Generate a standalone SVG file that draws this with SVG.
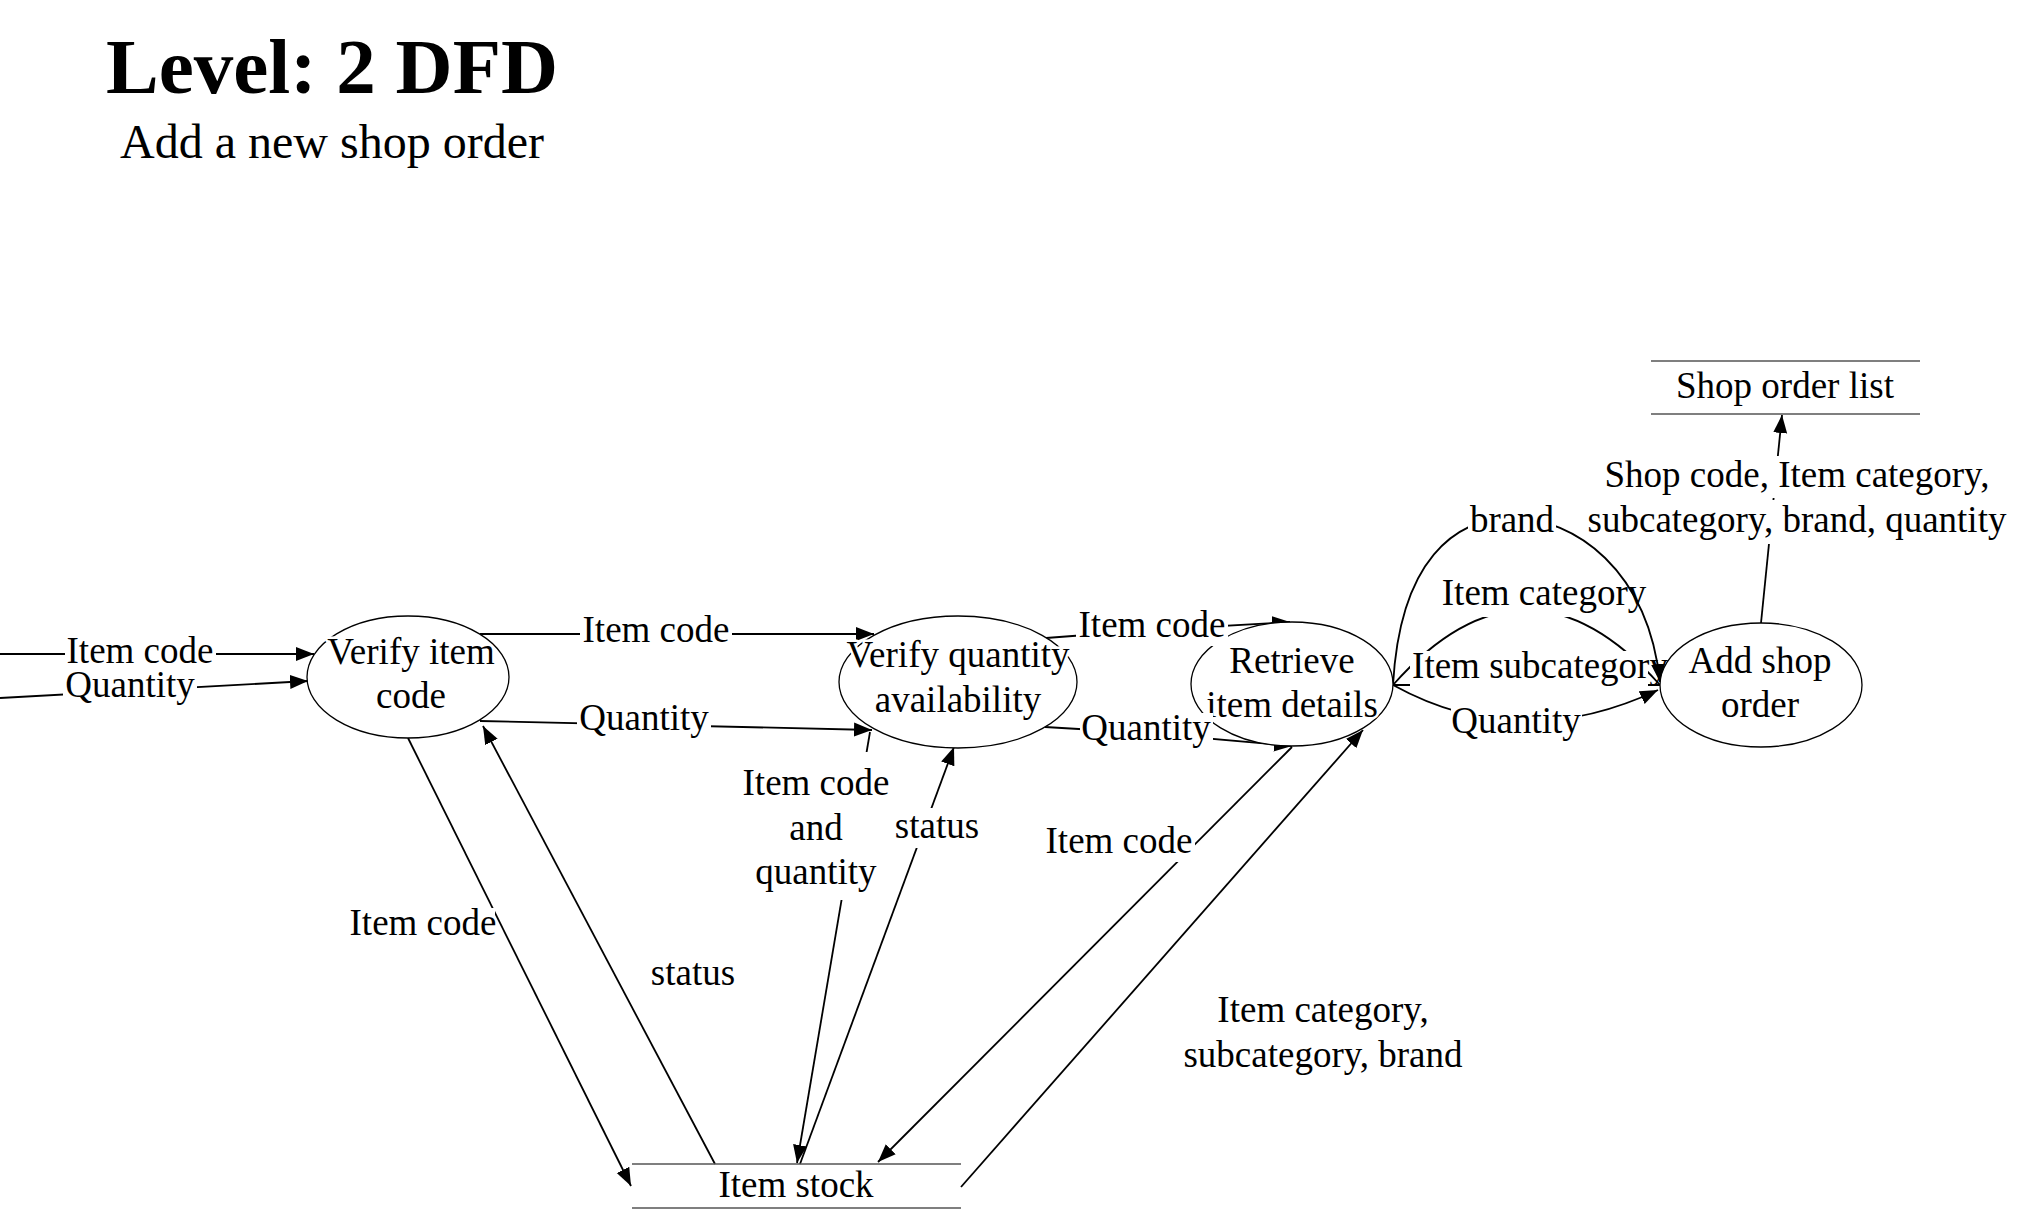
<svg xmlns="http://www.w3.org/2000/svg" width="2039" height="1225" viewBox="0 0 2039 1225">
<style>
text{font-family:"Liberation Serif","Times New Roman",serif;fill:#000}
.t{font-size:37px;text-anchor:middle}
.nt{font-size:37px;text-anchor:middle;paint-order:stroke;stroke:#fff;stroke-width:5px;stroke-linejoin:round}
.proc{fill:#fff;stroke:#000;stroke-width:1.3}
.store{stroke:#555;stroke-width:1.6}
.c{fill:none;stroke:#000;stroke-width:1.8}
.bg{fill:#fff}
</style>
<defs>
<marker id="arr" markerUnits="userSpaceOnUse" markerWidth="19" markerHeight="15" refX="18" refY="7.5" orient="auto">
<path d="M0,0.5 L18,7.5 L0,14.5 z" fill="#000"/>
</marker>
</defs>
<rect width="2039" height="1225" fill="#fff"/>
<g id="title">
<text x="332" y="93" style="font-size:79px;font-weight:bold;text-anchor:middle">Level: 2 DFD</text>
<text x="332" y="158" style="font-size:48px;text-anchor:middle">Add a new shop order</text>
</g>
<g id="connectors">
<line class="c" x1="0" y1="654" x2="314" y2="654" marker-end="url(#arr)"/>
<line class="c" x1="0" y1="698" x2="308" y2="681" marker-end="url(#arr)"/>
<line class="c" x1="480" y1="634" x2="874" y2="634" marker-end="url(#arr)"/>
<line class="c" x1="480" y1="721" x2="872" y2="730" marker-end="url(#arr)"/>
<line class="c" x1="408" y1="738" x2="631" y2="1186" marker-end="url(#arr)"/>
<line class="c" x1="715" y1="1164" x2="483" y2="726" marker-end="url(#arr)"/>
<line class="c" x1="870" y1="732" x2="797" y2="1163" marker-end="url(#arr)"/>
<line class="c" x1="800" y1="1164" x2="954" y2="747" marker-end="url(#arr)"/>
<path class="c" d="M1046,638 L1152,630 L1290,622" marker-end="url(#arr)"/>
<path class="c" d="M1045,727 L1146,733 L1292,746" marker-end="url(#arr)"/>
<line class="c" x1="1292" y1="747" x2="878" y2="1162" marker-end="url(#arr)"/>
<line class="c" x1="961" y1="1187" x2="1363" y2="730" marker-end="url(#arr)"/>
<path class="c" d="M1393,685 C1400,560 1455,518 1512,518 C1575,518 1648,570 1660,682" marker-end="url(#arr)"/>
<path class="c" d="M1393,685 Q1526,535 1660,685"/>
<line class="c" x1="1393" y1="685" x2="1660" y2="685"/>
<path class="c" d="M1393,685 Q1520,755 1658,690" marker-end="url(#arr)"/>
<line class="c" x1="1761" y1="623" x2="1782" y2="415" marker-end="url(#arr)"/>
</g>
<g id="verify-item-code">
<ellipse class="proc" cx="408" cy="677" rx="101" ry="61" fill="none"/>
<text class="nt" x="411" y="664">Verify item</text>
<text class="nt" x="411" y="708">code</text>
</g>
<g id="verify-quantity">
<ellipse class="proc" cx="958" cy="682" rx="119" ry="66" fill="none"/>
<text class="nt" x="958" y="667">Verify quantity</text>
<text class="nt" x="958" y="712">availability</text>
</g>
<g id="retrieve-item-details">
<ellipse class="proc" cx="1292" cy="684" rx="101" ry="62" fill="none"/>
<text class="nt" x="1292" y="673">Retrieve</text>
<text class="nt" x="1292" y="717">item details</text>
</g>
<g id="add-shop-order">
<ellipse class="proc" cx="1761" cy="685" rx="101" ry="62"/>
<text class="nt" x="1760" y="673">Add shop</text>
<text class="nt" x="1760" y="717">order</text>
</g>
<g id="item-stock">
<line class="store" x1="632" y1="1164" x2="961" y2="1164"/>
<line class="store" x1="632" y1="1208" x2="961" y2="1208"/>
<text class="t" x="796" y="1197">Item stock</text>
</g>
<g id="shop-order-list">
<line class="store" x1="1651" y1="361" x2="1920" y2="361"/>
<line class="store" x1="1651" y1="414" x2="1920" y2="414"/>
<text class="t" x="1785" y="398">Shop order list</text>
</g>
<g id="label-backgrounds">
<rect class="bg" x="65" y="636" width="151" height="36"/>
<rect class="bg" x="63" y="672" width="134" height="34"/>
<rect class="bg" x="580" y="615" width="152" height="36"/>
<rect class="bg" x="577" y="703" width="134" height="36"/>
<rect class="bg" x="348" y="908" width="147" height="36"/>
<rect class="bg" x="741" y="752" width="150" height="148"/>
<rect class="bg" x="893" y="808" width="88" height="40"/>
<rect class="bg" x="1076" y="610" width="152" height="36"/>
<rect class="bg" x="1080" y="713" width="133" height="36"/>
<rect class="bg" x="1043" y="826" width="152" height="36"/>
<rect class="bg" x="1468" y="505" width="88" height="36"/>
<rect class="bg" x="1440" y="578" width="172" height="39"/>
<rect class="bg" x="1410" y="651" width="238" height="39"/>
<rect class="bg" x="1451" y="706" width="131" height="36"/>
<rect class="bg" x="1603" y="456" width="392" height="42"/>
<rect class="bg" x="1590" y="500" width="420" height="44"/>
</g>
<g id="labels">
<text class="t" x="140" y="663">Item code</text>
<text class="t" x="130" y="697">Quantity</text>
<text class="t" x="656" y="642">Item code</text>
<text class="t" x="644" y="730">Quantity</text>
<text class="t" x="423" y="935">Item code</text>
<text class="t" x="693" y="985">status</text>
<text class="t" x="816" y="795">Item code</text>
<text class="t" x="816" y="840">and</text>
<text class="t" x="816" y="884">quantity</text>
<text class="t" x="937" y="838">status</text>
<text class="t" x="1152" y="637">Item code</text>
<text class="t" x="1146" y="740">Quantity</text>
<text class="t" x="1119" y="853">Item code</text>
<text class="t" x="1323" y="1022">Item category,</text>
<text class="t" x="1323" y="1067">subcategory, brand</text>
<text class="t" x="1512" y="532">brand</text>
<text class="t" x="1544" y="605">Item category</text>
<text class="t" x="1540" y="678">Item subcategory</text>
<text class="t" x="1516" y="733">Quantity</text>
<text class="t" x="1797" y="487">Shop code, Item category,</text>
<text class="t" x="1797" y="532">subcategory, brand, quantity</text>
</g>
</svg>
